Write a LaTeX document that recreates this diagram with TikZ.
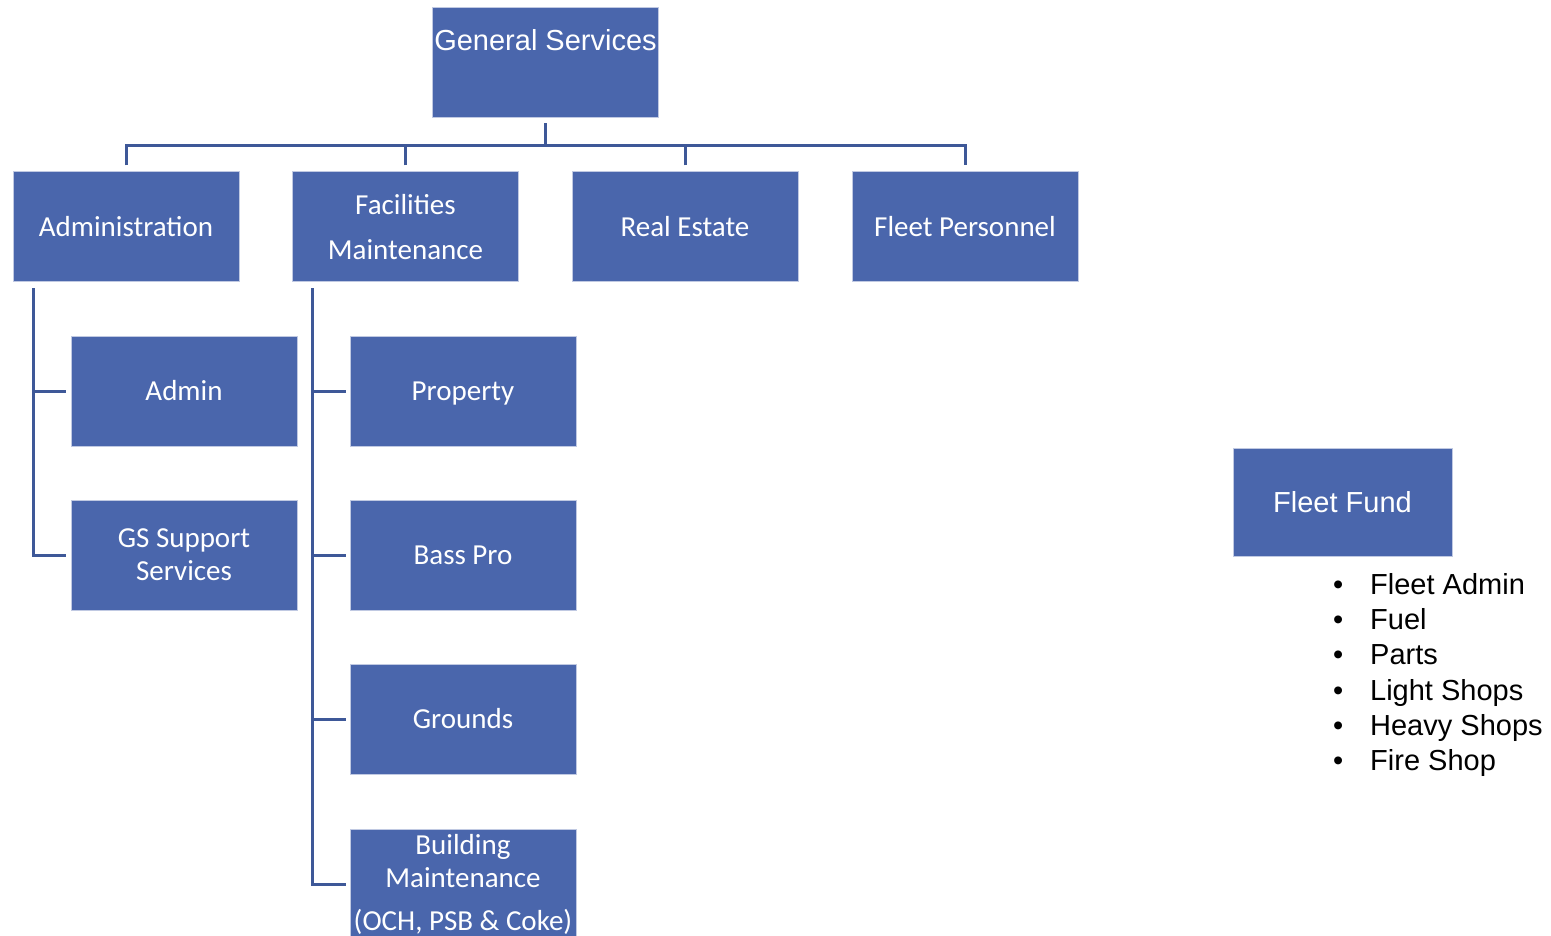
\documentclass[tikz,border=0pt]{standalone}
\usepackage{fontspec}
\setmainfont{Carlito}
\newfontfamily\arialfont{Liberation Sans}
\usetikzlibrary{positioning,calc}
\definecolor{boxblue}{RGB}{74,102,172}
\definecolor{lineblue}{RGB}{62,88,152}
\tikzset{
    every node/.style={font=\fontsize{29}{33}\selectfont},
    orgbox/.style={fill=boxblue, draw=white!65!boxblue, line width=1pt, text=white, align=center,
                   minimum width=226, minimum height=110, inner sep=0pt},
    conn/.style={draw=lineblue, line width=3pt},
}
\begin{document}
\begin{tikzpicture}[x=1pt,y=-1pt]
  \useasboundingbox (0,0) rectangle (1551,936);
  \node[orgbox, font=\arialfont\fontsize{29}{33}\selectfont, text height=21pt, text depth=45pt] (gs) at (545.5,63) {General Services};
  \node[orgbox] (adm) at (126,227) {Administration};
  \node[orgbox] (fac) at (405.5,227) {Facilities\\[12pt]Maintenance};
  \node[orgbox] (re) at (685,227) {Real Estate};
  \node[orgbox] (fp) at (965,227) {Fleet Personnel};
  \node[orgbox] (admin) at (184,391) {Admin};
  \node[orgbox] (gss) at (184,555) {GS Support\\Services};
  \node[orgbox, text height=20pt, text depth=1pt] (prop) at (463,391) {Property};
  \node[orgbox] (bass) at (463,555) {Bass Pro};
  \node[orgbox] (grnd) at (463,719) {Grounds};
  \node[orgbox] (bldg) at (463,884) {Building\\Maintenance\\[10pt](OCH, PSB \& Coke)};
  \node[orgbox, minimum width=219, minimum height=108, font=\arialfont\fontsize{29}{33}\selectfont] (ff) at (1342.5,502) {Fleet Fund};
  \node[anchor=north west, align=left, inner sep=0pt, font=\arialfont\fontsize{29}{35.3}\selectfont] (fflist) at (1333,573)
    {\makebox[37pt][l]{•}Fleet Admin\\\makebox[37pt][l]{•}Fuel\\\makebox[37pt][l]{•}Parts\\
     \makebox[37pt][l]{•}Light Shops\\\makebox[37pt][l]{•}Heavy Shops\\\makebox[37pt][l]{•}Fire Shop};
  % top level bus
  \draw[conn] ([yshift=-5pt]gs.south) -- ++(0,22) coordinate (bus);
  \draw[conn] ([yshift=6pt]adm.north) |- (bus) -| ([yshift=6pt]fp.north);
  \draw[conn] ([yshift=6pt]fac.north) -- (fac.north |- bus);
  \draw[conn] ([yshift=6pt]re.north) -- (re.north |- bus);
  % administration branch
  \draw[conn] ([xshift=21pt,yshift=-6pt]adm.south west) |- ([xshift=-5pt]gss.west);
  \draw[conn] ([xshift=-37pt]admin.west) -- ([xshift=-5pt]admin.west);
  % facilities branch
  \draw[conn] ([xshift=20pt,yshift=-6pt]fac.south west) |- ([xshift=-4pt]bldg.west);
  \draw[conn] ([xshift=-37pt]prop.west) -- ([xshift=-4pt]prop.west);
  \draw[conn] ([xshift=-37pt]bass.west) -- ([xshift=-4pt]bass.west);
  \draw[conn] ([xshift=-37pt]grnd.west) -- ([xshift=-4pt]grnd.west);
\end{tikzpicture}
\end{document}
